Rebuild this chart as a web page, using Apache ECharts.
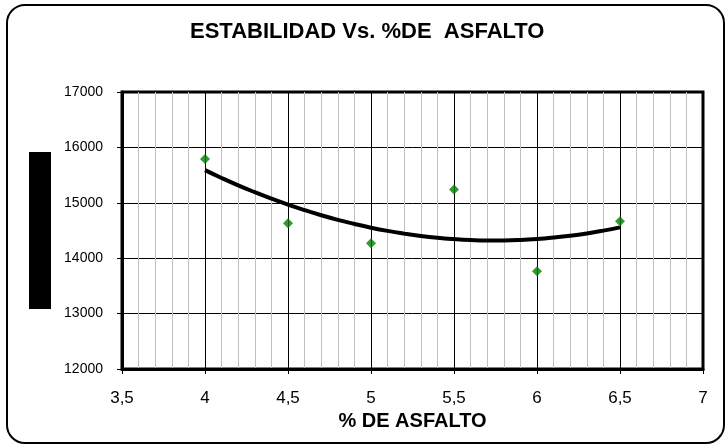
<!DOCTYPE html>
<html>
<head>
<meta charset="utf-8">
<script src="https://cdn.jsdelivr.net/npm/echarts@6/dist/echarts.min.js"></script>
<style>
  html, body { margin: 0; padding: 0; background: #fff; }
  #chart { width: 726px; height: 448px; }
</style>
</head>
<body>
<div id="chart"></div>
<script>
// Marshall test: stability against asphalt content
const asphaltPct = [4, 4.5, 5, 5.5, 6, 6.5];
const stability = [15790, 14630, 14270, 15240, 13765, 14665];

// Quadratic trend curve, sampled every 0.1 %
const trendX = [4.0, 4.1, 4.2, 4.3, 4.4, 4.5, 4.6, 4.7, 4.8, 4.9, 5.0, 5.1, 5.2,
                5.3, 5.4, 5.5, 5.6, 5.7, 5.8, 5.9, 6.0, 6.1, 6.2, 6.3, 6.4, 6.5];
const trendY = [15589, 15448, 15315, 15191, 15074, 14966, 14867, 14775, 14692, 14618,
                14551, 14493, 14444, 14402, 14369, 14345, 14328, 14320, 14321, 14329,
                14346, 14372, 14405, 14447, 14498, 14556];

const titleText = 'ESTABILIDAD Vs. %DE  ASFALTO';
const xAxisTitle = '% DE ASFALTO';

const FONT = 'Liberation Sans, Arial, sans-serif';

const chart = echarts.init(document.getElementById('chart'), null, { renderer: 'canvas' });

chart.setOption({
  animation: false,
  backgroundColor: '#fff',
  title: {
    text: titleText,
    left: 190,
    top: 21,
    padding: 0,
    textStyle: {
      fontFamily: FONT,
      fontWeight: 'bold',
      fontSize: 22,
      color: '#000'
    }
  },
  grid: {
    left: 122, right: 23, top: 92, bottom: 79,
    show: true,
    borderColor: '#000',
    borderWidth: 3,
    backgroundColor: 'transparent'
  },
  xAxis: {
    type: 'value',
    min: 3.5, max: 7, interval: 0.5,
    name: xAxisTitle,
    nameLocation: 'middle',
    nameGap: 42,
    nameTextStyle: {
      fontFamily: FONT,
      fontWeight: 'bold', fontSize: 20, color: '#000',
      verticalAlign: 'top'
    },
    axisLine: { show: true, lineStyle: { color: '#000', width: 3 } },
    axisTick: { show: true, length: 5, lineStyle: { color: '#000', width: 1 } },
    axisLabel: {
      margin: 21,
      fontFamily: FONT,
      fontSize: 17, color: '#000',
      formatter: v => String(v).replace('.', ',')
    },
    splitLine: { show: true, lineStyle: { color: '#000', width: 1 } },
    minorTick: { show: false, splitNumber: 5 },
    minorSplitLine: { show: true, lineStyle: { color: '#c0c0c0', width: 1 } }
  },
  yAxis: {
    type: 'value',
    min: 12000, max: 17000, interval: 1000,
    axisLine: { show: true, lineStyle: { color: '#000', width: 3 } },
    axisTick: { show: true, length: 5, lineStyle: { color: '#000', width: 1 } },
    axisLabel: {
      margin: 19,
      fontFamily: FONT,
      fontSize: 14, color: '#000',
      formatter: v => String(v)
    },
    splitLine: { show: true, lineStyle: { color: '#000', width: 1 } }
  },
  series: [
    {
      name: 'Estabilidad',
      type: 'scatter',
      symbol: 'diamond',
      symbolSize: 10,
      itemStyle: { color: '#008000' },
      data: asphaltPct.map((x, i) => [x, stability[i]]),
      z: 3
    },
    {
      name: 'Tendencia',
      type: 'line',
      smooth: true,
      showSymbol: false,
      lineStyle: { color: '#000', width: 4 },
      data: trendX.map((x, i) => [x, trendY[i]]),
      z: 2
    }
  ],
  graphic: [
    {
      type: 'rect',
      shape: { x: 7, y: 5, width: 717, height: 438, r: 18 },
      style: { fill: 'none', stroke: '#000', lineWidth: 2 },
      silent: true
    },
    {
      type: 'rect',
      shape: { x: 29, y: 152, width: 22, height: 157 },
      style: { fill: '#000' },
      silent: true
    }
  ]
});
</script>
</body>
</html>
